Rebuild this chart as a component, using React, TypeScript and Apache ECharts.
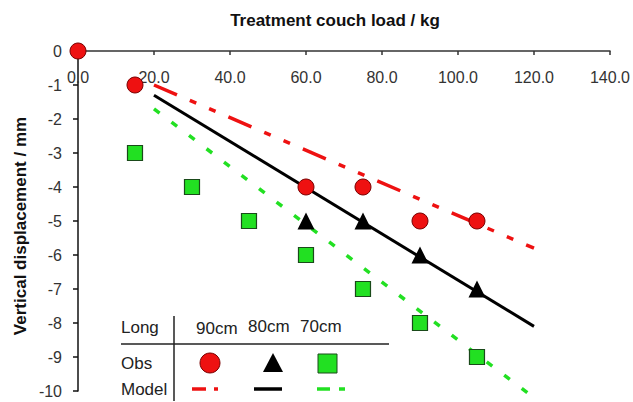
import React, { useEffect, useRef } from "react";
import * as echarts from "echarts";

// Observed vertical displacement (mm) vs couch load (kg)
const obs90Load = [0, 15, 60, 75, 90, 105];
const obs90Disp = [0, -1, -4, -4, -5, -5];
const obs80Load = [60, 75, 90, 105];
const obs80Disp = [-5, -5, -6, -7];
const obs70Load = [15, 30, 45, 60, 75, 90, 105];
const obs70Disp = [-3, -4, -5, -6, -7, -8, -9];

// Model lines (endpoints)
const modelLoad = [20, 120];
const model90 = [-1.0, -5.8];
const model80 = [-1.3, -8.1];
const model70 = [-1.7, -10.2];

const xTicks = [0, 20, 40, 60, 80, 100, 120, 140];
const yTicks = [0, -1, -2, -3, -4, -5, -6, -7, -8, -9, -10];

const legendCols = ["90cm", "80cm", "70cm"];

const RED = "#ee1111";
const GREEN = "#22e022";
const FONT = "'Liberation Sans', Arial, sans-serif";

const pairs = (xs: number[], ys: number[]) => xs.map((x, i) => [x, ys[i]]);

export default function App() {
  const ref = useRef<HTMLDivElement>(null);
  useEffect(() => {
    document.body.style.margin = "0";
    const chart = echarts.init(ref.current!, null, { renderer: "svg" });
    const txt = { fontFamily: FONT, fontSize: 17, fill: "#222" };
    chart.setOption({
      animation: false,
      backgroundColor: "#fff",
      grid: { left: 78, right: 21, top: 51, bottom: 11, containLabel: false },
      xAxis: {
        type: "value",
        position: "top",
        min: xTicks[0],
        max: xTicks[xTicks.length - 1],
        interval: 20,
        axisLine: { onZero: false, lineStyle: { color: "#333", width: 1.5 } },
        axisTick: { inside: true, length: 4, lineStyle: { color: "#333", width: 1.5 } },
        axisLabel: {
          inside: true,
          margin: 18,
          color: "#333",
          fontFamily: FONT,
          fontSize: 16,
          formatter: (v: number) => v.toFixed(1),
        },
        splitLine: { show: false },
      },
      yAxis: {
        type: "value",
        min: yTicks[yTicks.length - 1],
        max: yTicks[0],
        interval: 1,
        axisLine: { show: true, onZero: false, lineStyle: { color: "#111", width: 1.5 } },
        axisTick: { show: true, length: 5, lineStyle: { color: "#111", width: 1.5 } },
        axisLabel: { margin: 16, color: "#333", fontFamily: FONT, fontSize: 16 },
        splitLine: { show: false },
      },
      series: [
        {
          type: "line",
          data: pairs(modelLoad, model90),
          showSymbol: false,
          clip: false,
          lineStyle: { color: RED, width: 3.5, type: [25, 14, 7, 14, 7, 14] },
          z: 2,
        },
        {
          type: "line",
          data: pairs(modelLoad, model80),
          showSymbol: false,
          clip: false,
          lineStyle: { color: "#000", width: 3 },
          z: 2,
        },
        {
          type: "line",
          data: pairs(modelLoad, model70),
          showSymbol: false,
          clip: false,
          lineStyle: { color: GREEN, width: 3.5, type: [7, 15] },
          z: 2,
        },
        {
          type: "scatter",
          data: pairs(obs90Load, obs90Disp),
          symbol: "circle",
          symbolSize: 16,
          clip: false,
          itemStyle: { color: RED, borderColor: "#7a0000", borderWidth: 1, opacity: 1 },
          z: 5,
        },
        {
          type: "scatter",
          data: pairs(obs80Load, obs80Disp),
          symbol: "triangle",
          symbolSize: 17,
          clip: false,
          itemStyle: { color: "#000", opacity: 1 },
          z: 5,
        },
        {
          type: "scatter",
          data: pairs(obs70Load, obs70Disp),
          symbol: "rect",
          symbolSize: 15,
          clip: false,
          itemStyle: { color: GREEN, borderColor: "#1a4a1a", borderWidth: 1.2, opacity: 1 },
          z: 5,
        },
      ],
      graphic: [
        {
          type: "text",
          x: 335,
          y: 20,
          style: {
            text: "Treatment couch load / kg",
            fontFamily: FONT,
            fontSize: 17,
            fontWeight: "bold",
            fill: "#111",
            textAlign: "center",
            textVerticalAlign: "middle",
          },
        },
        {
          type: "text",
          x: 20,
          y: 226,
          rotation: Math.PI / 2,
          style: {
            text: "Vertical displacement / mm",
            fontFamily: FONT,
            fontSize: 17,
            fontWeight: "bold",
            fill: "#111",
            textAlign: "center",
            textVerticalAlign: "middle",
          },
        },
        // legend table
        { type: "text", x: 121, y: 327, style: { ...txt, text: "Long", textVerticalAlign: "middle" } },
        { type: "text", x: 196, y: 328, style: { ...txt, text: legendCols[0], textVerticalAlign: "middle" } },
        { type: "text", x: 248, y: 326, style: { ...txt, text: legendCols[1], textVerticalAlign: "middle" } },
        { type: "text", x: 300, y: 326, style: { ...txt, text: legendCols[2], textVerticalAlign: "middle" } },
        { type: "line", shape: { x1: 174, y1: 316, x2: 174, y2: 401 }, style: { stroke: "#222", lineWidth: 1.5 } },
        { type: "line", shape: { x1: 121, y1: 344, x2: 389, y2: 344 }, style: { stroke: "#222", lineWidth: 1.5 } },
        { type: "text", x: 121, y: 363, style: { ...txt, text: "Obs", textVerticalAlign: "middle" } },
        { type: "circle", shape: { cx: 210, cy: 363, r: 10 }, style: { fill: RED, stroke: "#7a0000", lineWidth: 1 } },
        {
          type: "polygon",
          shape: { points: [[273, 353], [263, 372], [283, 372]] },
          style: { fill: "#000" },
        },
        { type: "rect", shape: { x: 318, y: 354, width: 19, height: 19 }, style: { fill: GREEN, stroke: "#1a4a1a", lineWidth: 1 } },
        { type: "text", x: 121, y: 389, style: { ...txt, text: "Model", textVerticalAlign: "middle" } },
        { type: "line", shape: { x1: 192, y1: 389, x2: 206, y2: 389 }, style: { stroke: RED, lineWidth: 3.5 } },
        { type: "line", shape: { x1: 214, y1: 389, x2: 218, y2: 389 }, style: { stroke: RED, lineWidth: 3.5 } },
        { type: "line", shape: { x1: 254, y1: 389, x2: 282, y2: 389 }, style: { stroke: "#000", lineWidth: 3.5 } },
        { type: "line", shape: { x1: 317, y1: 389, x2: 330, y2: 389 }, style: { stroke: GREEN, lineWidth: 3.5 } },
        { type: "line", shape: { x1: 339, y1: 389, x2: 345, y2: 389 }, style: { stroke: GREEN, lineWidth: 3.5 } },
      ],
    });
    return () => chart.dispose();
  }, []);
  return <div ref={ref} style={{ width: 633, height: 402 }} />;
}
